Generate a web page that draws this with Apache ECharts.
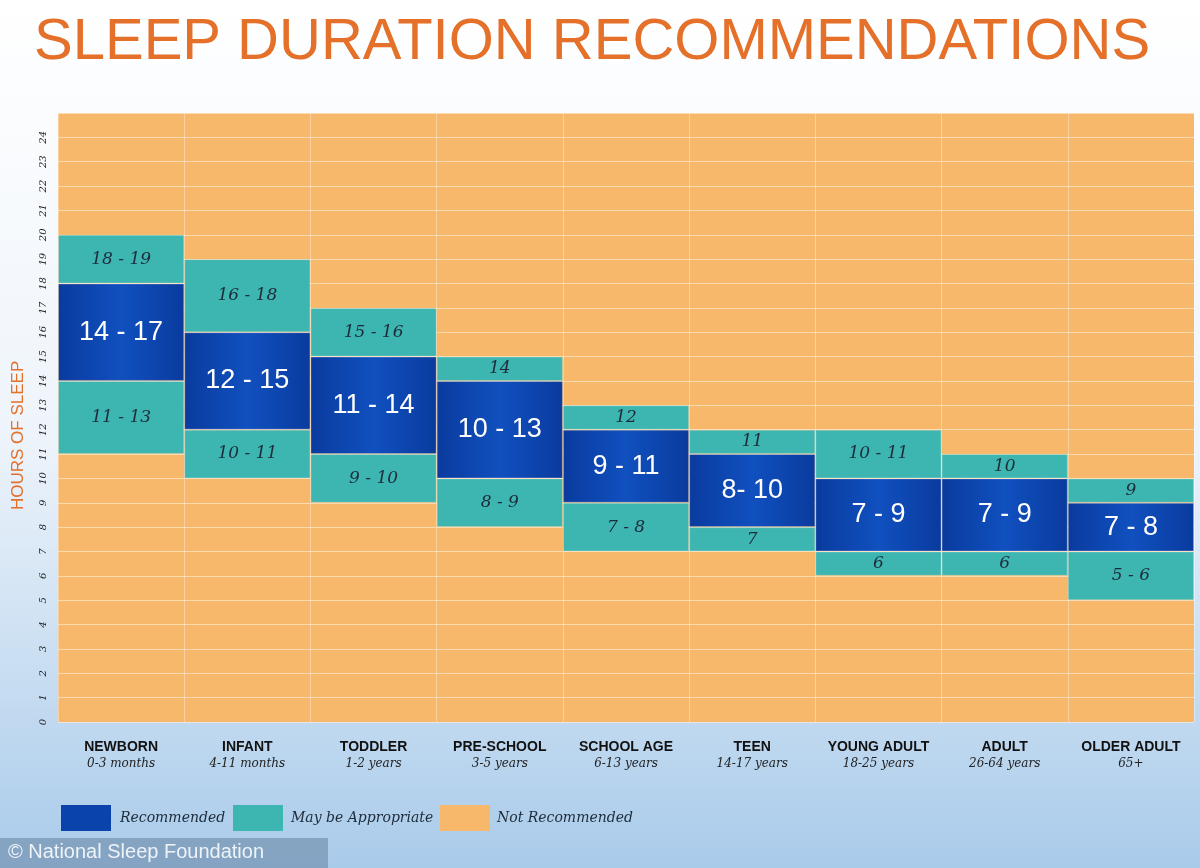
<!DOCTYPE html>
<html><head><meta charset="utf-8">
<script src="https://cdn.jsdelivr.net/npm/echarts@6/dist/echarts.min.js"></script>
<style>html,body{margin:0;padding:0}#chart{width:1200px;height:868px}</style>
</head><body><div id="chart"></div>
<script>
// categories and ranges (hours, bar spans low..high)
const groups = ['NEWBORN', 'INFANT', 'TODDLER', 'PRE-SCHOOL', 'SCHOOL AGE', 'TEEN', 'YOUNG ADULT', 'ADULT', 'OLDER ADULT']
const ages = ['0-3 months', '4-11 months', '1-2 years', '3-5 years', '6-13 years', '14-17 years', '18-25 years', '26-64 years', '65+']
const lowTealStart = [11, 10, 9, 8, 7, 7, 6, 6, 5]
const recStart = [14, 12, 11, 10, 9, 8, 7, 7, 7]
const highTealStart = [18, 16, 15, 14, 12, 11, 10, 10, 9]
const highTealEnd = [20, 19, 17, 15, 13, 12, 12, 11, 10]
const lowTealText = ['11 - 13', '10 - 11', '9 - 10', '8 - 9', '7 - 8', '7', '6', '6', '5 - 6']
const recText = ['14 - 17', '12 - 15', '11 - 14', '10 - 13', '9 - 11', '8- 10', '7 - 9', '7 - 9', '7 - 8']
const highTealText = ['18 - 19', '16 - 18', '15 - 16', '14', '12', '11', '10 - 11', '10', '9']

const BLUE = '#0b43ad', TEAL = '#3db5b1', ORANGE = '#f7b86b', ORANGE_TXT = '#e4702a'
const chart = echarts.init(document.getElementById('chart'))

const tealLabel = (texts) => ({
    show: true, formatter: (p) => texts[p.dataIndex],
    color: '#1d2b3a', fontFamily: 'DejaVu Serif', fontStyle: 'italic', fontSize: 17
})

const option = {
    animation: false,
    graphic: [
        {type: 'rect', z: -10, shape: {x: 0, y: 0, width: 1200, height: 868},
            style: {fill: {type: 'linear', x: 0, y: 0, x2: 0, y2: 1, colorStops: [
                {offset: 0, color: '#ffffff'}, {offset: 0.5, color: '#eef4fb'}, {offset: 1, color: '#a9cbea'}]}}},
        {type: 'text', left: 34, top: 14, style: {text: 'SLEEP DURATION RECOMMENDATIONS',
            fill: ORANGE_TXT, font: '58px "Liberation Sans"'}},
        {type: 'text', x: 10, y: 510, rotation: Math.PI / 2, style: {text: 'HOURS OF SLEEP',
            fill: ORANGE_TXT, font: '17px "Liberation Sans"'}},
        {type: 'rect', shape: {x: 61, y: 805, width: 50, height: 26}, style: {fill: BLUE}},
        {type: 'text', x: 120, y: 811, style: {text: 'Recommended', fill: '#1d2b3a', font: 'italic 14px "DejaVu Serif"'}},
        {type: 'rect', shape: {x: 233, y: 805, width: 50, height: 26}, style: {fill: TEAL}},
        {type: 'text', x: 291, y: 811, style: {text: 'May be Appropriate', fill: '#1d2b3a', font: 'italic 14px "DejaVu Serif"'}},
        {type: 'rect', shape: {x: 440, y: 805, width: 50, height: 26}, style: {fill: ORANGE}},
        {type: 'text', x: 497, y: 811, style: {text: 'Not Recommended', fill: '#1d2b3a', font: 'italic 14px "DejaVu Serif"'}},
        {type: 'rect', shape: {x: 0, y: 838, width: 328, height: 30}, style: {fill: 'rgba(120,150,180,0.75)'}},
        {type: 'text', x: 8, y: 842, style: {text: '© National Sleep Foundation', fill: '#eef3f8', font: '20px "Liberation Sans"'}}
    ],
    grid: {left: 58, right: 6, top: 113, bottom: 146, show: true, backgroundColor: ORANGE, borderWidth: 0},
    xAxis: {
        type: 'category', data: groups,
        axisLine: {show: false}, axisTick: {show: false},
        splitLine: {show: true, lineStyle: {color: 'rgba(255,255,255,0.35)'}},
        axisLabel: {
            interval: 0, margin: 16,
            formatter: (v, i) => `{a|${v}}\n{b|${ages[i]}}`,
            rich: {
                a: {fontFamily: 'Liberation Sans', fontWeight: 'bold', fontSize: 14, color: '#111', lineHeight: 18},
                b: {fontFamily: 'DejaVu Serif', fontStyle: 'italic', fontSize: 12, color: '#222', lineHeight: 16}
            }
        }
    },
    yAxis: {
        type: 'value', min: 0, max: 25, interval: 1,
        axisLine: {show: false}, axisTick: {show: false},
        splitLine: {lineStyle: {color: 'rgba(255,240,220,0.6)'}},
        axisLabel: {rotate: 90, margin: 10, color: '#222', fontFamily: 'DejaVu Serif', fontStyle: 'italic',
            fontSize: 10, formatter: (v) => v > 24 ? '' : v}
    },
    series: [
        {type: 'bar', stack: 's', barCategoryGap: '0%', silent: true, itemStyle: {color: 'transparent'},
            data: lowTealStart},
        {type: 'bar', stack: 's', itemStyle: {color: TEAL, borderColor: 'rgba(255,255,255,0.25)', borderWidth: 1},
            data: recStart.map((v, i) => v - lowTealStart[i]), label: tealLabel(lowTealText)},
        {type: 'bar', stack: 's', itemStyle: {color: {type: 'linear', x: 0, y: 0, x2: 1, y2: 0, colorStops: [
                {offset: 0, color: '#0a3b9e'}, {offset: 0.5, color: '#1050bf'}, {offset: 1, color: '#0a3b9e'}]},
                borderColor: 'rgba(255,255,255,0.25)', borderWidth: 1},
            data: highTealStart.map((v, i) => v - recStart[i]),
            label: {show: true, formatter: (p) => recText[p.dataIndex], color: '#fff',
                fontFamily: 'Liberation Sans', fontSize: 27}},
        {type: 'bar', stack: 's', itemStyle: {color: TEAL, borderColor: 'rgba(255,255,255,0.25)', borderWidth: 1},
            data: highTealEnd.map((v, i) => v - highTealStart[i]), label: tealLabel(highTealText)}
    ]
}
chart.setOption(option)
</script></body></html>
